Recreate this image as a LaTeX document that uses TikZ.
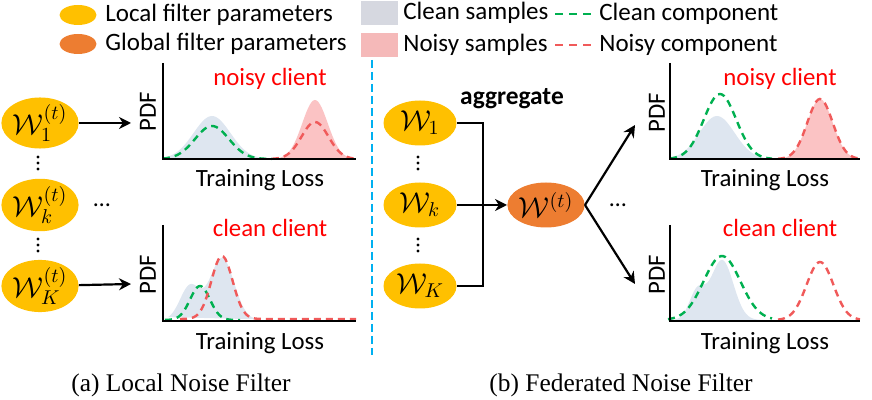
\documentclass[tikz,border=0pt]{standalone}
\usepackage{fontspec}
\setmainfont{Liberation Serif}
\setsansfont{Carlito}
\usetikzlibrary{arrows.meta,positioning,shapes.geometric}

\definecolor{localyel}{RGB}{255,192,0}
\definecolor{globorg}{RGB}{237,125,49}
\definecolor{cleangray}{RGB}{214,216,224}
\definecolor{noisypink}{RGB}{245,185,185}
\definecolor{plotgray}{RGB}{222,230,240}
\definecolor{plotpink}{RGB}{251,195,196}
\definecolor{cleangreen}{RGB}{0,176,80}
\definecolor{noisyred}{RGB}{240,90,90}
\definecolor{sepblue}{RGB}{0,176,240}

\begin{document}
\begin{tikzpicture}[x=0.5pt, y=-0.5pt,
  declare function={gs(\x,\m,\h,\s)=\h*exp(-((\x-\m)/\s)^2);},
  param/.style={ellipse, fill=localyel, minimum width=36.5pt, minimum height=22.5pt,
    inner sep=0pt, font=\fontsize{14}{16}\selectfont},
  glob/.style={param, fill=globorg},
  lbl/.style={font=\sffamily\fontsize{12.5}{14}\selectfont, inner sep=0pt},
  axlbl/.style={font=\sffamily\fontsize{12.4}{14}\selectfont, inner sep=0pt},
  client/.style={axlbl, text=red},
  hdot/.style={inner sep=0pt, anchor=base, font=\sffamily\fontsize{12}{14}\selectfont},
  arr/.style={-{Stealth[length=6pt,width=6pt]}, line width=1.1pt},
  axis/.style={line width=1pt},
  cleandash/.style={cleangreen, line width=1.2pt, dash pattern=on 3.5pt off 2.5pt},
  noisydash/.style={noisyred, line width=1.2pt, dash pattern=on 3.5pt off 2.5pt}
]
\useasboundingbox (0,0) rectangle (872,400);

% legend
\node[param, minimum width=18.5pt, minimum height=10pt] (keyloc) at (78,15) {};
\node[lbl, anchor=west] (keyloct) at (105,15) {Local filter parameters};
\node[glob, minimum width=18.5pt, minimum height=10pt] (keyglob) at (78,44) {};
\node[lbl, anchor=west] (keyglobt) at (105,44) {Global filter parameters};
\node[fill=cleangray, minimum width=18.5pt, minimum height=12pt, inner sep=0pt] (keyclean) at (379,13) {};
\node[lbl, anchor=west] (keycleant) at (403,13) {Clean samples};
\node[fill=noisypink, minimum width=18.5pt, minimum height=12pt, inner sep=0pt] (keynoisy) at (379,45) {};
\node[lbl, anchor=west] (keynoisyt) at (403,45) {Noisy samples};
\coordinate (cg1) at (555,14);
\coordinate (cg2) at (593,14);
\coordinate (nr1) at (555,45);
\coordinate (nr2) at (593,45);
\draw[cleandash, dash pattern=on 4pt off 3pt] (cg1) -- (cg2);
\draw[noisydash, dash pattern=on 4pt off 3pt] (nr1) -- (nr2);
\node[lbl, anchor=west] (keycgt) at (599,14) {Clean component};
\node[lbl, anchor=west] (keynrt) at (599,45) {Noisy component};

% (a) local noise filter
\node[param] (l1) at (40,123) {$\mathcal{W}_1^{(t)}$};
\node[param] (lk) at (40,205) {$\mathcal{W}_k^{(t)}$};
\node[param] (lK) at (40,286) {$\mathcal{W}_K^{(t)}$};
\foreach \y in {157,163,169,239,245,251}
  \fill (38,\y) circle (0.85pt);
\node[hdot] (ldots) at (102,207) {…};
\coordinate (la1) at (131,123);
\coordinate (laK) at (131,284);
\draw[arr] (l1) -- (la1);
\draw[arr] (lK) -- (laK);

% top left plot
\fill[plotgray] plot[domain=163:277, samples=50] (\x,{159-gs(\x,212,43,26)}) -- cycle;
\fill[plotpink] plot[domain=272:356, samples=50] (\x,{159-gs(\x,315,59,18)}) -- cycle;
\draw[cleandash] plot[domain=163:272, samples=50] (\x,{159-gs(\x,212,33,24)});
\draw[noisydash] plot[domain=272:356, samples=50] (\x,{159-gs(\x,315,37,19)});
\draw[axis] (163,63) |- (356,159);
\node[axlbl, rotate=90] (tlpdf) at (148,112) {PDF};
\node[client] (tlc) at (270,79) {noisy client};
\node[axlbl] (tlx) at (260,180) {Training Loss};

% bottom left plot
\fill[plotgray] plot[domain=168:258, samples=60] (\x,{320-gs(\x,190,34,14)-gs(\x,222,62,17)}) -- cycle;
\draw[cleandash] plot[domain=165:240, samples=50] (\x,{320-gs(\x,200,34,14)});
\draw[noisydash] plot[domain=180:262, samples=50] (\x,{319-gs(\x,222,63,15)}) -- (356,319);
\draw[axis] (163,225) |- (356,321);
\node[axlbl, rotate=90] (blpdf) at (148,275) {PDF};
\node[client] (blc) at (270,228) {clean client};
\node[axlbl] (blx) at (260,343) {Training Loss};

% separator
\coordinate (sept) at (372,60);
\coordinate (sepb) at (372,355);
\draw[sepblue, line width=1pt, dash pattern=on 4pt off 2pt] (sept) -- (sepb);

% (b) federated noise filter
\node[param] (r1) at (420,123) {$\mathcal{W}_1$};
\node[param] (rk) at (420,205) {$\mathcal{W}_k$};
\node[param] (rK) at (420,286) {$\mathcal{W}_K$};
\foreach \y in {157,163,169,239,245,251}
  \fill (418,\y) circle (0.85pt);
\node[glob] (g) at (546,205) {$\mathcal{W}^{(t)}$};
\node[axlbl, font=\sffamily\bfseries\fontsize{12.7}{14}\selectfont] (aggt) at (512,99) {aggregate};
\coordinate (bus) at (483,205);
\draw[line width=1.2pt] (r1.east) -| (bus) |- (rK.east);
\draw[arr] (rk) -- (g);
\coordinate (gnoisy) at (635,125);
\coordinate (gclean) at (635,284);
\draw[arr] (g.east) -- (gnoisy);
\draw[arr] (g.east) -- (gclean);
\node[hdot] (rdots) at (618,207) {…};

% top right plot
\fill[plotgray] plot[domain=670:772, samples=50] (\x,{159-gs(\x,717,43,25)}) -- cycle;
\fill[plotpink] plot[domain=778:860, samples=50] (\x,{159-gs(\x,820,60,18)}) -- cycle;
\draw[cleandash] plot[domain=670:772, samples=50] (\x,{159-gs(\x,720,65,23)});
\draw[noisydash] plot[domain=778:860, samples=50] (\x,{159-gs(\x,820,60,18)});
\draw[axis] (670,63) |- (860,159);
\node[axlbl, rotate=90] (trpdf) at (657,113) {PDF};
\node[client] (trc) at (780,79) {noisy client};
\node[axlbl] (trx) at (765,180) {Training Loss};

% bottom right plot
\fill[plotgray] plot[domain=672:765, samples=60] (\x,{320-gs(\x,697,28,11)-gs(\x,722,60,16)}) -- cycle;
\draw[cleandash] plot[domain=668:772, samples=50] (\x,{320-gs(\x,722,64,26)});
\draw[noisydash] plot[domain=778:860, samples=50] (\x,{320-gs(\x,820,58,19)});
\draw[axis] (670,225) |- (860,321);
\node[axlbl, rotate=90] (brpdf) at (657,275) {PDF};
\node[client] (brc) at (780,228) {clean client};
\node[axlbl] (brx) at (765,343) {Training Loss};

% captions
\node[font=\fontsize{12.7}{14}\selectfont] (capa) at (181,385) {(a) Local Noise Filter};
\node[font=\fontsize{12.7}{14}\selectfont] (capb) at (621,385) {(b) Federated Noise Filter};
\end{tikzpicture}
\end{document}
